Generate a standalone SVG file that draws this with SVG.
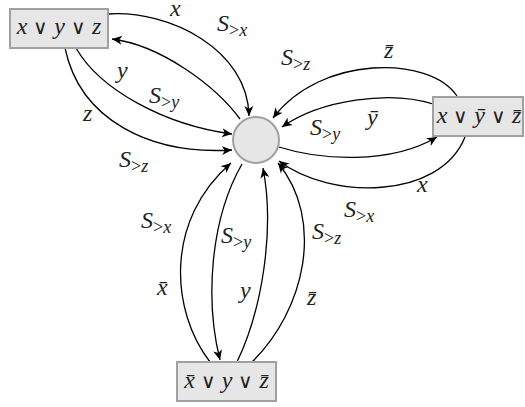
<svg xmlns="http://www.w3.org/2000/svg" width="525" height="407" viewBox="0 0 525 407">
<style>
.box{fill:#e6e6e6;stroke:#a0a0a0;stroke-width:2}
.e{fill:none;stroke:#000;stroke-width:1.3}
.op{font-style:normal;font-size:20px}
.sub{font-size:18px}
.gt{font-style:normal}
</style>
<defs>
<marker id="ah" markerUnits="userSpaceOnUse" markerWidth="12" markerHeight="10" refX="10" refY="4.5" orient="auto" viewBox="0 0 12 9">
<path d="M0,0 L10,4.5 L0,9 L2.8,4.5 Z" fill="#000"/>
</marker>
</defs>
<g id="connectors">
<path class="e" d="M108,14 C170,10 248,50 249,116" marker-end="url(#ah)"/>
<path class="e" d="M240,119 C215,85 160,45 112,39" marker-end="url(#ah)"/>
<path class="e" d="M76,48 C100,90 165,125 232,134" marker-end="url(#ah)"/>
<path class="e" d="M65,48 C80,120 150,155 232,150" marker-end="url(#ah)"/>
<path class="e" d="M457,96 C430,55 320,55 273,118" marker-end="url(#ah)"/>
<path class="e" d="M433,104 C390,90 320,100 282,127" marker-end="url(#ah)"/>
<path class="e" d="M279,147 C320,160 390,165 437,137" marker-end="url(#ah)"/>
<path class="e" d="M465,137 C440,200 330,200 279,161" marker-end="url(#ah)"/>
<path class="e" d="M210,362 C170,310 165,220 231,163" marker-end="url(#ah)"/>
<path class="e" d="M242,164 C210,220 205,300 220,360" marker-end="url(#ah)"/>
<path class="e" d="M237,362 C262,310 275,230 263,168" marker-end="url(#ah)"/>
<path class="e" d="M252,362 C305,310 325,220 278,163" marker-end="url(#ah)"/>
</g>
<g id="center">
<circle cx="256" cy="140" r="23" class="box"/>
</g>
<g font-family="Liberation Serif, Times New Roman, serif" font-style="italic" font-size="24" fill="#222">
<g id="clause1">
<rect x="10" y="9" width="98" height="39" class="box"/>
<text x="59" y="34" text-anchor="middle">x <tspan class="op">∨</tspan> y <tspan class="op">∨</tspan> z</text>
</g>
<g id="clause2">
<rect x="433" y="97" width="90" height="39" class="box"/>
<text x="479" y="123" text-anchor="middle">x <tspan class="op">∨</tspan> ȳ <tspan class="op">∨</tspan> z̄</text>
</g>
<g id="clause3">
<rect x="177" y="362" width="99" height="39" class="box"/>
<text x="226.5" y="388" text-anchor="middle">x̄ <tspan class="op">∨</tspan> y <tspan class="op">∨</tspan> z̄</text>
</g>
<g id="labels">
<text x="170" y="16">x</text>
<text x="217" y="31">S<tspan class="sub gt" dy="5">&gt;</tspan><tspan class="sub">x</tspan></text>
<text x="117" y="78">y</text>
<text x="149" y="103">S<tspan class="sub gt" dy="5">&gt;</tspan><tspan class="sub">y</tspan></text>
<text x="83" y="121">z</text>
<text x="119" y="167">S<tspan class="sub gt" dy="5">&gt;</tspan><tspan class="sub">z</tspan></text>
<text x="384" y="58">z̄</text>
<text x="281" y="65">S<tspan class="sub gt" dy="5">&gt;</tspan><tspan class="sub">z</tspan></text>
<text x="367" y="125">ȳ</text>
<text x="310" y="135">S<tspan class="sub gt" dy="5">&gt;</tspan><tspan class="sub">y</tspan></text>
<text x="417" y="192">x</text>
<text x="344" y="217">S<tspan class="sub gt" dy="5">&gt;</tspan><tspan class="sub">x</tspan></text>
<text x="312" y="239">S<tspan class="sub gt" dy="5">&gt;</tspan><tspan class="sub">z</tspan></text>
<text x="141" y="228">S<tspan class="sub gt" dy="5">&gt;</tspan><tspan class="sub">x</tspan></text>
<text x="157" y="295">x̄</text>
<text x="221" y="243">S<tspan class="sub gt" dy="5">&gt;</tspan><tspan class="sub">y</tspan></text>
<text x="240" y="298">y</text>
<text x="307" y="305">z̄</text>
</g>
</g>
</svg>
